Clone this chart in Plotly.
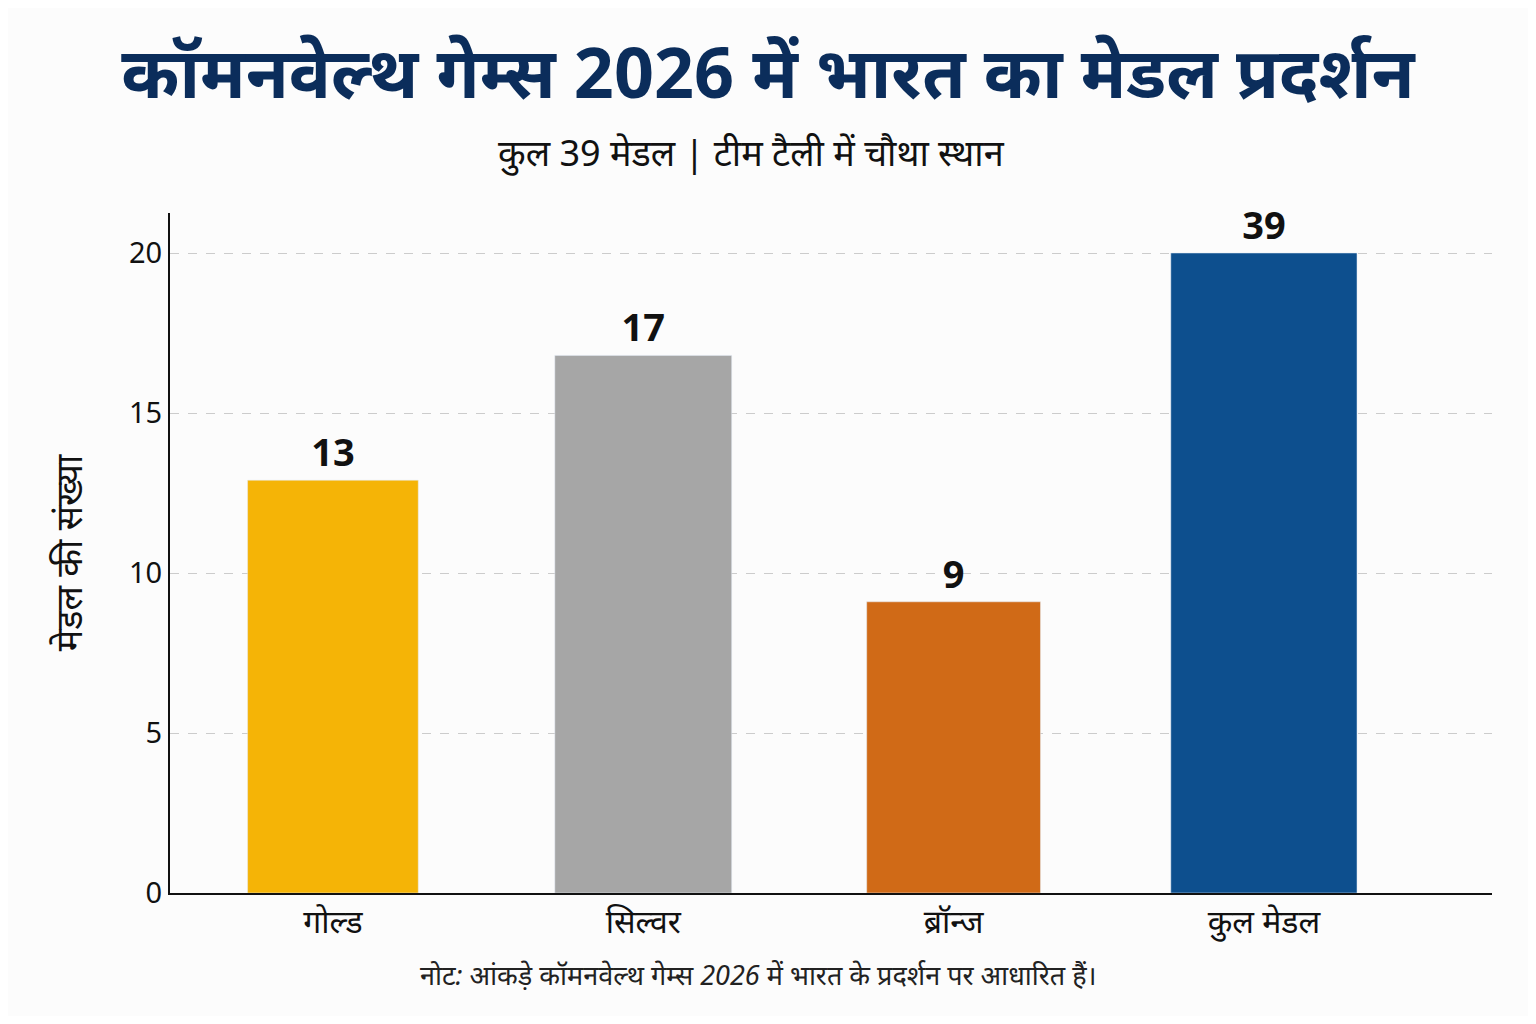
import plotly.graph_objects as go

categories = ["गोल्ड", "सिल्वर", "ब्रॉन्ज", "कुल मेडल"]
bar_heights = [12.9, 16.8, 9.1, 20]
labels = ["13", "17", "9", "39"]
colors = ["#F5B406", "#A6A6A6", "#D06A17", "#0D4F8E"]
yticks = [0, 5, 10, 15, 20]

x = list(range(len(categories)))
fig = go.Figure(go.Bar(
    x=x, y=bar_heights, width=[0.55, 0.57, 0.56, 0.6], marker_color=colors,
    text=labels, textposition="outside", cliponaxis=False,
    textfont=dict(size=38, color="#111", family="Noto Sans", weight="bold"),
))
fig.update_layout(
    width=1520, height=1008, paper_bgcolor="#FCFCFC", plot_bgcolor="#FCFCFC",
    margin=dict(l=162, r=36, t=205, b=123),
    font=dict(family="Noto Sans", color="#111"),
    showlegend=False,
    title=dict(text="<b>कॉमनवेल्थ गेम्स 2026 में भारत का मेडल प्रदर्शन</b>",
               x=0.5, xanchor="center", y=0.935, yanchor="middle",
               font=dict(size=70, color="#0B2D5B")),
    annotations=[
        dict(text="कुल 39 मेडल | टीम टैली में चौथा स्थान", x=0.44, xref="paper",
             y=1.0 + (213 - 152) / 680, yref="paper", yanchor="middle", showarrow=False,
             font=dict(size=36, color="#111")),
        dict(text="<i>नोट: आंकड़े कॉमनवेल्थ गेम्स 2026 में भारत के प्रदर्शन पर आधारित हैं।</i>",
             x=0.445, xref="paper", y=-0.15, yref="paper", showarrow=False,
             font=dict(size=27, color="#222")),
    ],
)
fig.update_xaxes(range=[-0.525, 3.735], tickvals=x, ticktext=categories,
                 tickfont=dict(size=32), showline=True, linecolor="#111", linewidth=2,
                 ticks="", showgrid=False)
fig.update_yaxes(range=[0, 21.25], tickvals=yticks, tickfont=dict(size=29),
                 showline=True, linecolor="#111", linewidth=2, ticks="",
                 gridcolor="#CCCCCC", griddash="dash", zeroline=False,
                 title=dict(text="मेडल की संख्या", font=dict(size=36), standoff=35))
fig.write_html("out.html")
